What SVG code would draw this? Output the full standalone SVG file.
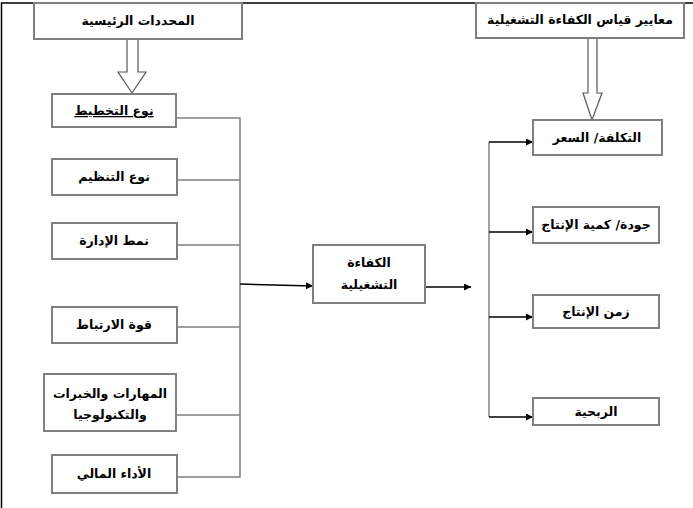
<svg xmlns="http://www.w3.org/2000/svg" width="693" height="508" viewBox="0 0 693 508">
<style>
.box{fill:#fff;stroke:#808080;stroke-width:2}
.t{font-family:"DejaVu Sans","Noto Sans",sans-serif;font-weight:bold;font-size:12.5px;fill:#000;text-anchor:middle}
.g{fill:none;stroke:#808080;stroke-width:1.5}
.a{fill:none;stroke:#000;stroke-width:1.5;marker-end:url(#ah)}
.hollow{fill:#fff;stroke:#555;stroke-width:1.2}
</style>
<defs>
<marker id="ah" viewBox="0 0 10 10" refX="10" refY="5" markerWidth="7" markerHeight="7" markerUnits="userSpaceOnUse" orient="auto"><path d="M0,0 L10,5 L0,10 z" fill="#000"/></marker>
</defs>
<rect width="693" height="508" fill="#fff"/>
<g id="frame"><path d="M1.5,508 V3 H693" fill="none" stroke="#000" stroke-width="1.5"/></g>
<g id="connectors">
<path class="g" d="M176,118 H240 V477 H177 M177,180 H240 M177,245 H240 M177,327 H240 M176,415 H240"/>
<path class="a" d="M240,284 L313,286"/>
<path class="a" d="M425,287 H471"/>
<path class="g" d="M489,142 V417"/>
<path class="a" d="M489,142 H533"/>
<path class="a" d="M489,232 H533"/>
<path class="a" d="M489,317 H533"/>
<path class="a" d="M489,417 H533"/>
<polygon class="hollow" points="127,39 138,39 138,72 146,72 132,93 118,72 127,72"/>
<polygon class="hollow" points="588,38 597,38 597,93 602,93 592,120 583,93 588,93"/>
</g>
<g id="n-main"><rect class="box" x="34" y="3" width="208" height="36"/><text class="t" x="138" y="25">المحددات الرئيسية</text></g>
<g id="n-planning"><rect class="box" x="52" y="94" width="124" height="33"/><text class="t" x="114" y="115" text-decoration="underline">نوع التخطيط</text></g>
<g id="n-org"><rect class="box" x="52" y="159" width="125" height="36"/><text class="t" x="114" y="181">نوع التنظيم</text></g>
<g id="n-mgmt"><rect class="box" x="52" y="223" width="125" height="36"/><text class="t" x="114" y="245">نمط الإدارة</text></g>
<g id="n-link"><rect class="box" x="52" y="307" width="125" height="36"/><text class="t" x="114" y="329">قوة الارتباط</text></g>
<g id="n-skills"><rect class="box" x="44" y="374" width="132" height="57"/><text class="t" x="110" y="398">المهارات والخبرات</text><text class="t" x="110" y="419">والتكنولوجيا</text></g>
<g id="n-finance"><rect class="box" x="52" y="455" width="125" height="38"/><text class="t" x="114" y="478">الأداء المالي</text></g>
<g id="n-eff"><rect class="box" x="313" y="245" width="112" height="58"/><text class="t" x="369" y="267">الكفاءة</text><text class="t" x="369" y="289">التشغيلية</text></g>
<g id="n-criteria"><rect class="box" x="476" y="3" width="208" height="35"/><text class="t" x="580" y="24">معايير قياس الكفاءة التشغيلية</text></g>
<g id="n-cost"><rect class="box" x="533" y="120" width="129" height="35"/><text class="t" x="597" y="142">التكلفة/ السعر</text></g>
<g id="n-quality"><rect class="box" x="533" y="207" width="126" height="36"/><text class="t" x="596" y="229">جودة/ كمية الإنتاج</text></g>
<g id="n-time"><rect class="box" x="533" y="295" width="126" height="33"/><text class="t" x="596" y="316">زمن الإنتاج</text></g>
<g id="n-profit"><rect class="box" x="533" y="398" width="126" height="27"/><text class="t" x="596" y="416">الربحية</text></g>
</svg>
